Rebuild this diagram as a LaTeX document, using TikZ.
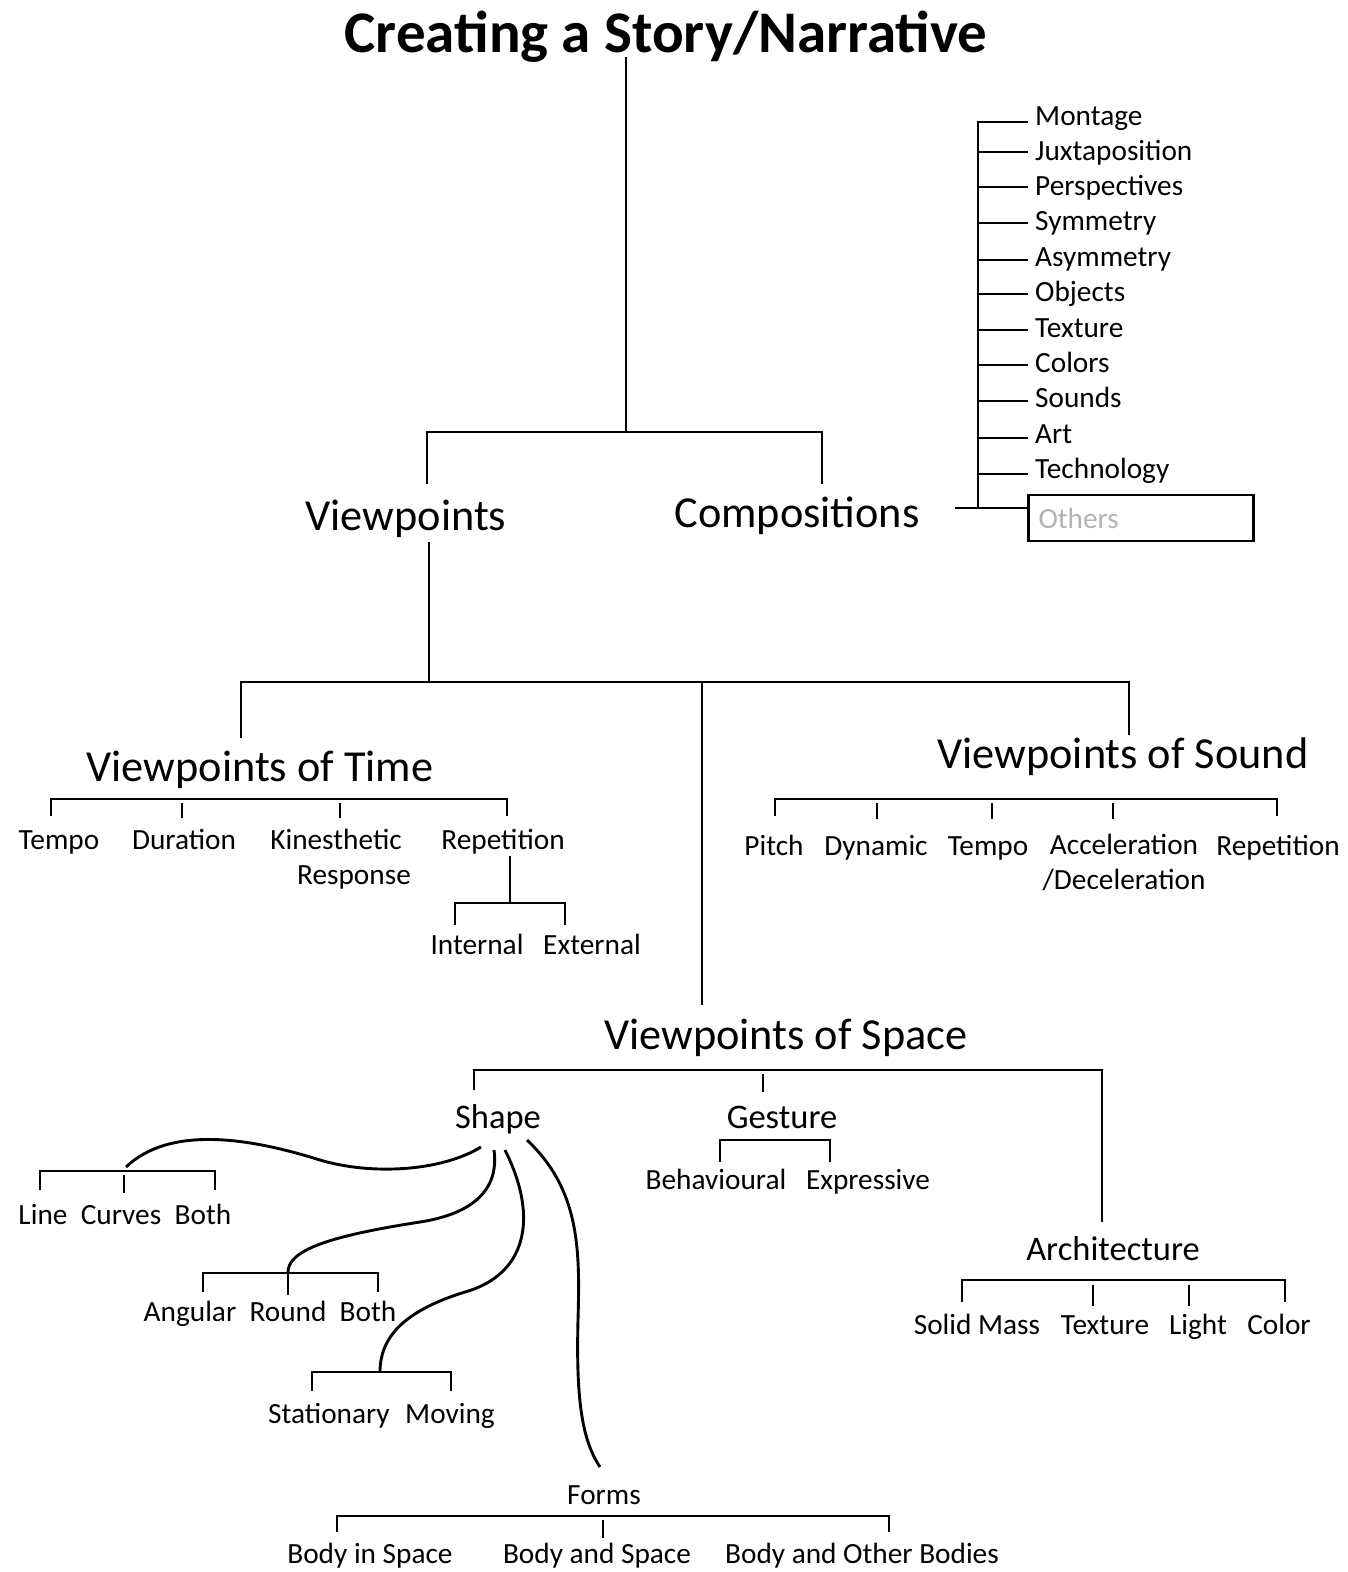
\documentclass[tikz,border=0pt]{standalone}
\usepackage{fontspec}
\setmainfont{Carlito}
\begin{document}
\begin{tikzpicture}[x=1pt,y=-1pt,
  ln/.style={line width=2.9pt},
  sm/.style={font=\fontsize{29.3}{35}\selectfont, inner sep=0pt, anchor=base, xshift=2pt, yshift=-3pt},
  md/.style={font=\fontsize{34.5}{40}\selectfont, inner sep=0pt, anchor=base, xshift=2pt, yshift=-3pt},
  lg/.style={font=\fontsize{44.3}{50}\selectfont, inner sep=0pt, anchor=base, xshift=2pt, yshift=-2pt},
  ttl/.style={font=\fontsize{59}{64}\selectfont\bfseries, inner sep=0pt, anchor=base},
  lst/.style={font=\fontsize{29.3}{35}\selectfont, inner sep=0pt, anchor=base west}]
\useasboundingbox (0,0) rectangle (1348,1572);

% ---- title and first level
\node[ttl] (title) at (666,52) {Creating a Story/Narrative};
\node[lg] (vp) at (404,528) {Viewpoints};
\node[lg] (comp) at (795,525) {Compositions};
\coordinate (t0) at (626,57);
\coordinate (tj) at (626,432);
\coordinate (vpTop) at (427,484);
\coordinate (compTop) at (822,484);
\draw[ln] (t0) -- (tj);
\draw[ln] (vpTop) |- (tj) -| (compTop);

% ---- compositions list
\coordinate (cL) at (955,508);
\coordinate (cB) at (978,508);
\coordinate (cT) at (978,121);
\draw[ln] (cL) -- (cB);
\draw[ln] (cT) -- (cB);
\foreach \t/\ty/\ly/\nm in {Montage/122/125/c1, Juxtaposition/152/160/c2, Perspectives/187/195/c3,
  Symmetry/223/230/c4, Asymmetry/260/266/c5, Objects/294/301/c6, Texture/330/337/c7,
  Colors/365/372/c8, Sounds/401/407/c9, Art/438/443/c10, Technology/474/478/c11}{
  \node[lst] (\nm) at (1035,\ly) {\t};
  \draw[ln] (978,\ty) -- (1028,\ty);
}
\node[draw=black, line width=2.9pt, minimum width=225pt, minimum height=46pt,
  text width=205pt, inner xsep=10pt, inner ysep=0pt, align=left,
  font=\fontsize{29.3}{35}\selectfont, text=black!30] (others) at (1141,518) {Others};
\draw[ln] (cB) -- (others.west|-cB);

% ---- viewpoints split
\coordinate (v0) at (429,542);
\coordinate (vj) at (429,682);
\coordinate (timeTop) at (241,738);
\coordinate (soundTop) at (1129,735);
\coordinate (sp0) at (702,682);
\coordinate (sp1) at (702,1005);
\draw[ln] (v0) -- (vj);
\draw[ln] (timeTop) |- (vj) -| (soundTop);
\draw[ln] (sp0) -- (sp1);

\node[lg] (vt) at (258,779) {Viewpoints of Time};
\node[lg] (vs) at (1121,766) {Viewpoints of Sound};
\node[lg] (vsp) at (784,1047) {Viewpoints of Space};

% ---- time
\draw[ln] (51,816) -- (51,799) -- (507,799) -- (507,816);
\draw[ln] (182,803) -- (182,818);
\draw[ln] (340,803) -- (340,818);
\node[sm] (tTempo) at (57,846) {Tempo};
\node[sm] (tDur) at (182,846) {Duration};
\node[sm] (tKin) at (334,846) {Kinesthetic};
\node[sm] (tResp) at (352,881) {Response};
\node[sm] (tRep) at (501,846) {Repetition};
\draw[ln] (510,856) -- (510,903);
\draw[ln] (455,925) -- (455,903) -- (565,903) -- (565,925);
\node[sm] (tInt) at (475,951) {Internal};
\node[sm] (tExt) at (590,951) {External};

% ---- sound
\draw[ln] (775,816) -- (775,799) -- (1277,799) -- (1277,816);
\foreach \x in {877,992,1113}{\draw[ln] (\x,803) -- (\x,819);}
\node[sm] (sPitch) at (772,852) {Pitch};
\node[sm] (sDyn) at (874,852) {Dynamic};
\node[sm] (sTempo) at (986,852) {Tempo};
\node[sm, align=center, anchor=north] (sAcc) at (1122,831) {Acceleration\\/Deceleration};
\node[sm] (sRep) at (1276,852) {Repetition};

% ---- space
\draw[ln] (474,1090) -- (474,1070) -- (1102,1070) -- (1102,1222);
\draw[ln] (763,1074) -- (763,1092);
\node[md] (shape) at (496,1125) {Shape};
\node[md] (gest) at (780,1125) {Gesture};
\node[md] (arch) at (1111,1257) {Architecture};

% gesture
\draw[ln] (720,1162) -- (720,1140) -- (830,1140) -- (830,1162);
\node[sm] (gBeh) at (714,1186) {Behavioural};
\node[sm] (gExp) at (866,1186) {Expressive};

% architecture
\draw[ln] (962,1302) -- (962,1280) -- (1285,1280) -- (1285,1302);
\draw[ln] (1093,1285) -- (1093,1306);
\draw[ln] (1189,1285) -- (1189,1306);
\node[sm] (aSolid) at (975,1331) {Solid Mass};
\node[sm] (aTex) at (1103,1331) {Texture};
\node[sm] (aLight) at (1196,1331) {Light};
\node[sm] (aCol) at (1277,1331) {Color};

% shape: line curves both
\draw[ln] (40,1190) -- (40,1171) -- (215,1171) -- (215,1190);
\draw[ln] (124,1175) -- (124,1193);
\node[sm] (lLine) at (41,1221) {Line};
\node[sm] (lCurv) at (119,1221) {Curves};
\node[sm] (lBoth) at (201,1221) {Both};
\draw[ln] (481,1147) .. controls (440,1172) and (370,1175) .. (320,1160)
  .. controls (250,1138) and (170,1125) .. (126,1167);

% angular round both
\draw[ln] (203,1292) -- (203,1273) -- (378,1273) -- (378,1292);
\draw[ln] (288,1273) -- (288,1295);
\node[sm] (aAng) at (188,1318) {Angular};
\node[sm] (aRound) at (286,1318) {Round};
\node[sm] (aBoth) at (366,1318) {Both};
\draw[ln] (494,1150) .. controls (500,1195) and (465,1215) .. (420,1222)
  .. controls (330,1236) and (287,1250) .. (288,1273);

% stationary moving
\draw[ln] (312,1391) -- (312,1372) -- (451,1372) -- (451,1391);
\node[sm] (mSta) at (327,1420) {Stationary};
\node[sm] (mMov) at (448,1420) {Moving};
\draw[ln] (505,1150) .. controls (540,1220) and (525,1275) .. (465,1292)
  .. controls (400,1312) and (380,1340) .. (380,1372);

% forms
\node[sm] (forms) at (602,1501) {Forms};
\draw[ln] (527,1140) .. controls (580,1190) and (580,1250) .. (578,1320)
  .. controls (576,1400) and (582,1440) .. (600,1467);
\draw[ln] (337,1532) -- (337,1516) -- (889,1516) -- (889,1532);
\draw[ln] (603,1520) -- (603,1538);
\node[sm] (fBIS) at (368,1560) {Body in Space};
\node[sm] (fBAS) at (595,1560) {Body and Space};
\node[sm] (fBOB) at (860,1560) {Body and Other Bodies};
\end{tikzpicture}
\end{document}
